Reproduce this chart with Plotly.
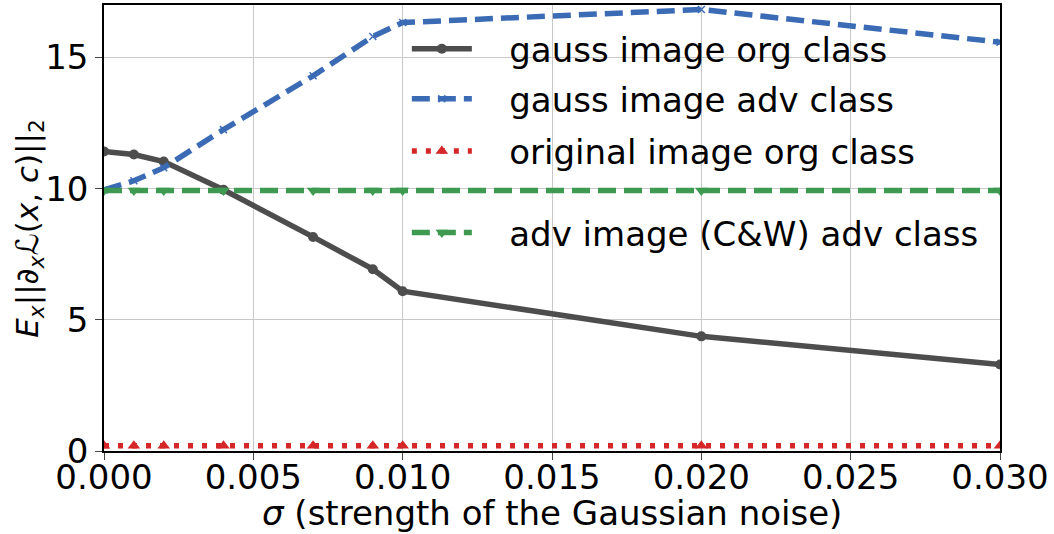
import plotly.graph_objects as go

sigma = [0.0, 0.001, 0.002, 0.004, 0.007, 0.009, 0.01, 0.02, 0.03]
gauss_org = [11.42, 11.3, 11.03, 9.96, 8.16, 6.93, 6.09, 4.37, 3.3]
gauss_adv = [9.95, 10.3, 10.8, 12.25, 14.3, 15.8, 16.33, 16.83, 15.58]
orig_org = [0.2] * len(sigma)
adv_cw = [9.93] * len(sigma)

x_ticks = [0, 0.005, 0.01, 0.015, 0.02, 0.025, 0.03]
x_ticktext = ["0.000", "0.005", "0.010", "0.015", "0.020", "0.025", "0.030"]
y_ticks = [0, 5, 10, 15]

FS = 34
NB = "\u00a0\u00a0\u00a0"

fig = go.Figure()
fig.add_trace(go.Scatter(x=sigma, y=gauss_org, mode="lines+markers", name=NB + "gauss image org class",
                         legend="legend",
                         line=dict(color="#4d4d4d", width=5.5),
                         marker=dict(symbol="circle", size=10, color="#4d4d4d")))
fig.add_trace(go.Scatter(x=sigma, y=gauss_adv, mode="lines+markers", name=NB + "gauss image adv class",
                         legend="legend2",
                         line=dict(color="#3b6bb5", width=5.5, dash="18px,8px"),
                         marker=dict(symbol="x-thin", size=7, color="#3b6bb5", line=dict(color="#3b6bb5", width=1.5))))
fig.add_trace(go.Scatter(x=sigma, y=orig_org, mode="lines+markers", name=NB + "original image org class",
                         legend="legend3",
                         line=dict(color="#d62728", width=5.5, dash="5px,9px"),
                         marker=dict(symbol="triangle-up", size=11, color="#d62728")))
fig.add_trace(go.Scatter(x=sigma, y=adv_cw, mode="lines+markers", name=NB + "adv image (C&W) adv class",
                         legend="legend4",
                         line=dict(color="#3d9a50", width=5.5, dash="18px,8px"),
                         marker=dict(symbol="triangle-down", size=11, color="#3d9a50")))

def leg(y):
    return dict(x=0.338, y=y, xanchor="left", yanchor="middle", bgcolor="rgba(0,0,0,0)",
                font=dict(size=FS, family="DejaVu Sans", color="black"), itemwidth=60)

fig.update_layout(
    width=1054, height=534,
    margin=dict(l=104, r=54, t=5, b=83),
    plot_bgcolor="white", paper_bgcolor="white",
    font=dict(family="DejaVu Sans", size=FS, color="black"),
    showlegend=True,
    legend=leg(0.901), legend2=leg(0.789), legend3=leg(0.672), legend4=leg(0.489),
    xaxis=dict(range=[0, 0.03], tickvals=x_ticks, ticktext=x_ticktext, automargin=False,
               showgrid=True, gridcolor="#c8c8c8", gridwidth=1, zeroline=False,
               showline=True, linecolor="black", linewidth=1.5, mirror=True,
               ticks="outside", ticklen=7, tickcolor="#444", tickfont=dict(size=FS),
               ticklabelstandoff=-12),
    yaxis=dict(range=[0, 17], tickvals=y_ticks, automargin=False,
               showgrid=True, gridcolor="#c8c8c8", gridwidth=1, zeroline=False,
               showline=True, linecolor="black", linewidth=1.5, mirror=True,
               ticks="outside", ticklen=7, tickcolor="#444", tickfont=dict(size=FS)),
    annotations=[
        dict(text="<i>σ</i> (strength of the Gaussian noise)", xref="paper", yref="paper",
             x=0.5, y=-0.14, xanchor="center", yanchor="middle", showarrow=False, font=dict(size=FS)),
        dict(text="<i>E</i><sub><i>x</i></sub>||∂<sub><i>x</i></sub>ℒ(<i>x</i>, <i>c</i>)||<sub>2</sub>",
             xref="paper", yref="paper", x=-0.084, y=0.5, xanchor="center", yanchor="middle",
             textangle=-90, showarrow=False, font=dict(size=31)),
    ],
)
fig.write_html("out.html", config={"displayModeBar": False},
               post_script="document.body.style.margin='0px';")
